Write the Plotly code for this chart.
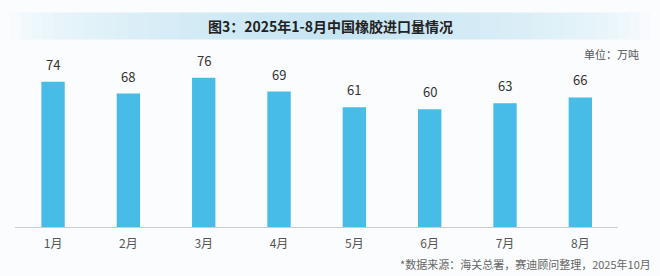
import plotly.graph_objects as go

months = ["1月", "2月", "3月", "4月", "5月", "6月", "7月", "8月"]
imports = [74, 68, 76, 69, 61, 60, 63, 66]
title_text = "图3：2025年1-8月中国橡胶进口量情况"
unit_text = "单位：万吨"
source_text = "*数据来源：海关总署，赛迪顾问整理，2025年10月"

W, H = 660, 276
FONT = "Noto Sans CJK SC"

fig = go.Figure()
fig.add_trace(go.Bar(
    x=months, y=imports,
    marker=dict(color="#47bce7", line=dict(width=0)),
    width=0.31,
    cliponaxis=False,
))

# title band gradient (approximated with strips)
shapes = []
n = 60
x0, x1 = 10 / W, 650 / W
for i in range(n):
    t = (i + 0.5) / n
    k = 1 - abs(t - 0.5) * 2
    k = max(0.0, min(1.0, k ** 0.5))
    r = int(255 - (255 - 198) * k)
    g = int(255 - (255 - 229) * k)
    b = int(255 - (255 - 243) * k)
    shapes.append(dict(
        type="rect", xref="paper", yref="paper", layer="below",
        x0=x0 + (x1 - x0) * i / n, x1=x0 + (x1 - x0) * (i + 1) / n + 0.001,
        y0=1 - 39.5 / H, y1=1 - 12.5 / H,
        fillcolor=f"rgb({r},{g},{b})", line=dict(width=0),
    ))

annotations = [
    dict(text=f"<b>{title_text}</b>", xref="paper", yref="paper",
         x=0.5, y=1 - 26 / H, xanchor="center", yanchor="middle",
         showarrow=False, font=dict(family=FONT, size=14, color="#222222")),
    dict(text=unit_text, xref="paper", yref="paper",
         x=641 / W, y=1 - 54 / H, xanchor="right", yanchor="middle",
         showarrow=False, font=dict(family=FONT, size=11, color="#555555")),
    dict(text=source_text, xref="paper", yref="paper",
         x=653 / W, y=1 - 264 / H, xanchor="right", yanchor="middle",
         showarrow=False, font=dict(family=FONT, size=11, color="#666666")),
]
for m, v in zip(months, imports):
    annotations.append(dict(
        x=m, y=v, xref="x", yref="y", text=str(v), showarrow=False,
        xanchor="center", yanchor="bottom", yshift=6,
        font=dict(family=FONT, size=13, color="#333333"),
    ))

fig.update_layout(
    width=W, height=H,
    margin=dict(l=0, r=0, t=0, b=0, pad=0),
    paper_bgcolor="#fafcfd",
    plot_bgcolor="rgba(0,0,0,0)",
    showlegend=False,
    shapes=shapes,
    xaxis=dict(
        domain=[15.4 / W, 618 / W],
        showline=True, linecolor="#c9cdd0", linewidth=1,
        ticks="", showgrid=False,
        ticklabelstandoff=6,
        tickfont=dict(family=FONT, size=12, color="#555555"),
    ),
    yaxis=dict(
        domain=[1 - 227 / H, 1 - 60 / H],
        range=[0, 85.07],
        visible=False, showgrid=False,
    ),
    annotations=annotations,
)

fig.write_html("out.html")
